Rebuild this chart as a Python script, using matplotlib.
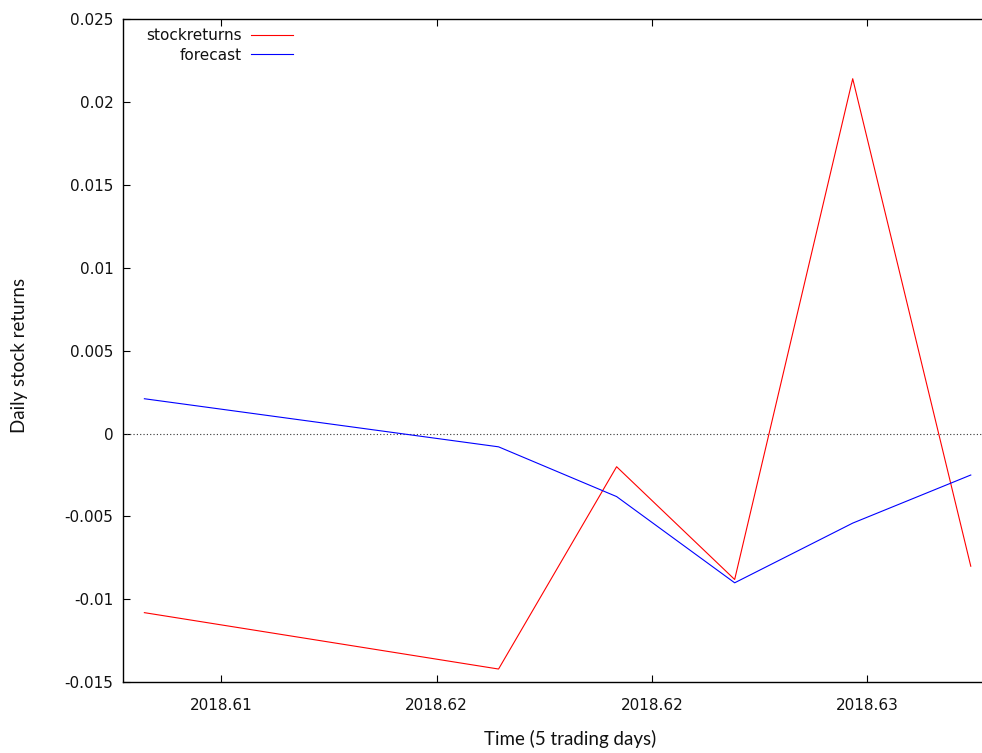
import matplotlib
matplotlib.use("Agg")
import matplotlib.pyplot as plt
from matplotlib.lines import Line2D

# Trading days (day of year, 2018) and the two return series
day_of_year = [222, 225, 226, 227, 228, 229]
stock_returns = [-0.0108, -0.0142, -0.0020, -0.0088, 0.0214, -0.0080]
forecast = [0.0021, -0.0008, -0.0038, -0.0090, -0.0054, -0.0025]

x_ticks = [2018.61, 2018.615, 2018.62, 2018.625]
x_tick_labels = ["2018.61", "2018.62", "2018.62", "2018.63"]
y_ticks = [-0.015, -0.01, -0.005, 0, 0.005, 0.01, 0.015, 0.02, 0.025]
y_tick_labels = ["-0.015", "-0.01", "-0.005", "0", "0.005", "0.01", "0.015", "0.02", "0.025"]

years = [2018 + d / 365.0 for d in day_of_year]

W, H = 982, 753
fig = plt.figure(figsize=(W / 100, H / 100), dpi=100)
left, right, top, bottom = 123.3, 1017.0, 19.0, 682.3
ax = fig.add_axes([left / W, 1 - bottom / H, (right - left) / W, (bottom - top) / H])

ax.plot(years, stock_returns, color="#ff0000", lw=0.8, zorder=3)
ax.plot(years, forecast, color="#0000ff", lw=0.8, zorder=3)
ax.axhline(0, color="#333333", lw=0.8, linestyle=(0, (1, 2)), zorder=2)

ax.set_xlim(2018.60773, 2018.62847)
ax.set_ylim(-0.015, 0.025)
ax.set_xticks(x_ticks)
ax.set_xticklabels(x_tick_labels)
ax.set_yticks(y_ticks)
ax.set_yticklabels(y_tick_labels)

for s in ax.spines.values():
    s.set_linewidth(1.0)
    s.set_color("black")

ax.tick_params(axis="both", direction="in", length=5, width=0.8,
               labelsize=11, colors="black")
ax.tick_params(axis="x", top=True, pad=11)
ax.tick_params(axis="y", right=True, pad=7.2)
for lab in ax.get_xticklabels() + ax.get_yticklabels():
    lab.set_family("DejaVu Sans")
    lab.set_color("#111111")

# axis titles
fig.text(570 / W, 1 - 739 / H, "Time (5 trading days)", family="Lato",
         fontsize=13.5, ha="center", va="center", color="#111111")
fig.text(20 / W, 1 - 355 / H, "Daily stock returns", family="Lato",
         fontsize=13.5, ha="center", va="center", rotation=90, color="#111111")

# key, top-left inside the frame
key_items = [("stockreturns", "#ff0000", 34.5), ("forecast", "#0000ff", 53.5)]
for label, col, yy in key_items:
    fig.text(242 / W, 1 - (yy + 1.5) / H, label, family="DejaVu Sans", fontsize=11,
             ha="right", va="center", color="#111111")
    fig.add_artist(Line2D([251 / W, 293 / W], [1 - yy / H, 1 - yy / H],
                          color=col, lw=0.8, transform=fig.transFigure))

fig.savefig("out.png", dpi=100, facecolor="white")
